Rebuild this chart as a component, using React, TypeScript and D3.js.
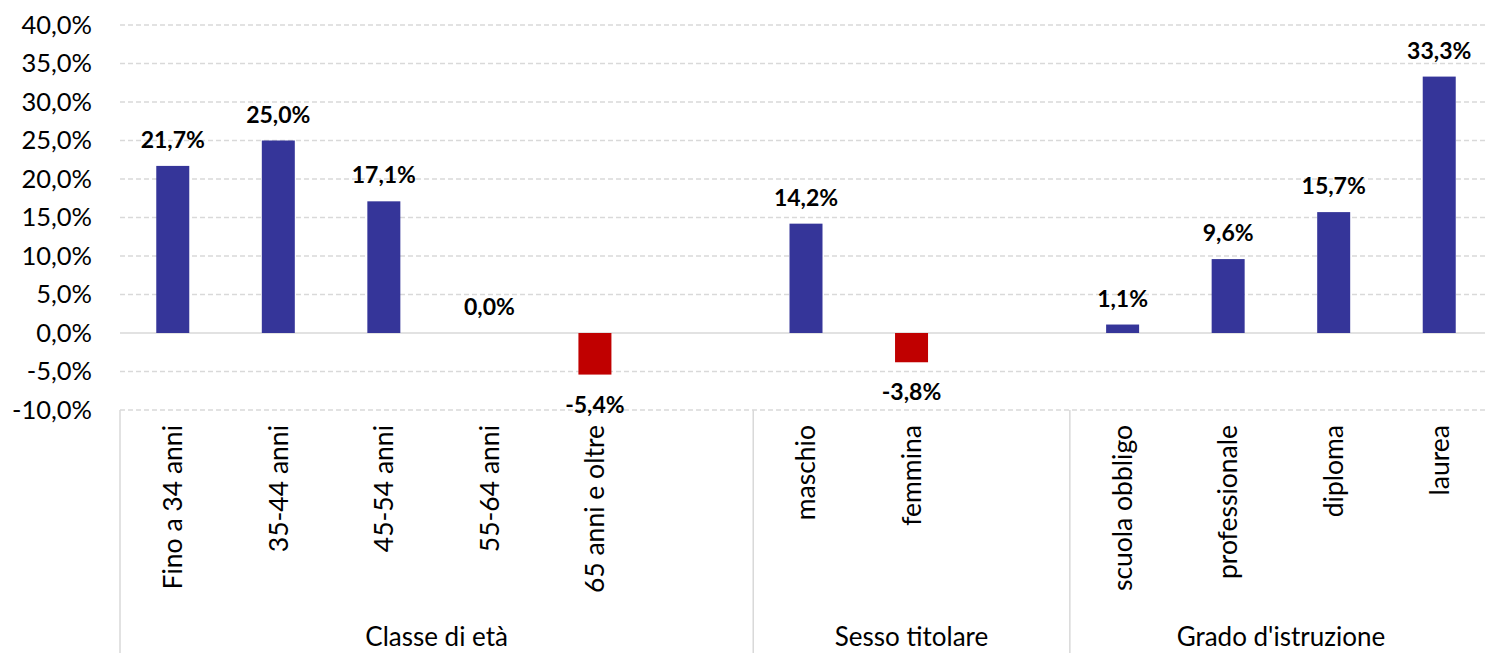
import React from "react";
import * as d3 from "d3";

const categories = [
  "Fino a 34 anni", "35-44 anni", "45-54 anni", "55-64 anni", "65 anni e oltre", "",
  "maschio", "femmina", "",
  "scuola obbligo", "professionale", "diploma", "laurea",
];
const values: (number | null)[] = [21.7, 25.0, 17.1, 0.0, -5.4, null, 14.2, -3.8, null, 1.1, 9.6, 15.7, 33.3];
const groups = [
  { name: "Classe di età", start: 0, end: 6 },
  { name: "Sesso titolare", start: 6, end: 9 },
  { name: "Grado d'istruzione", start: 9, end: 13 },
];
const yTicks = [-10, -5, 0, 5, 10, 15, 20, 25, 30, 35, 40];

const W = 1485, H = 653;
const FONT = "Lato, 'Open Sans', sans-serif";
const fmt = (v: number) => v.toFixed(1).replace(".", ",") + "%";

export default function App() {
  const left = 120, right = 1492, top = 25, bottom = 410;
  const step = (right - left) / categories.length;
  const y = d3.scaleLinear().domain([-10, 40]).range([bottom, top]);
  const bw = 33;
  return (
    <svg width={W} height={H} style={{ position: "absolute", left: 0, top: 0, fontFamily: FONT }}>
      {yTicks.map((t) => (
        <g key={t}>
          {t !== 0 && (
            <line x1={left} x2={right} y1={y(t)} y2={y(t)} stroke="#d9d9d9" strokeWidth={1.3} strokeDasharray="5,3" />
          )}
          <text x={92} y={y(t)} dy="0.35em" textAnchor="end" fontSize={25.5} fill="#000">{fmt(t)}</text>
        </g>
      ))}
      <line x1={left} x2={right} y1={y(0)} y2={y(0)} stroke="#d9d9d9" strokeWidth={1.5} />
      {values.map((v, i) => {
        if (v === null) return null;
        const cx = left + step * (i + 0.5);
        const y0 = y(0), y1 = y(v);
        const neg = v < 0;
        return (
          <g key={i}>
            {v !== 0 && (
              <rect x={cx - bw / 2} y={Math.min(y0, y1)} width={bw} height={Math.abs(y1 - y0)} fill={neg ? "#c00000" : "#353599"} />
            )}
            <text x={cx} y={neg ? y1 + 30 : y1 - 26} dy="0.35em" textAnchor="middle" fontSize={23} fontWeight="bold" fill="#000">{fmt(v)}</text>
          </g>
        );
      })}
      {categories.map((c, i) => {
        const cx = left + step * (i + 0.5);
        return c ? (
          <text key={i} transform={`translate(${cx},425) rotate(-90)`} dy="0.35em" textAnchor="end" fontSize={26.5} fill="#000">{c}</text>
        ) : null;
      })}
      {groups.map((g) => {
        const x0 = left + step * g.start, x1 = left + step * g.end;
        return (
          <g key={g.name}>
            <line x1={x0} x2={x0} y1={bottom} y2={H} stroke="#d9d9d9" strokeWidth={1.5} />
            <text x={(x0 + x1) / 2} y={637} dy="0.35em" textAnchor="middle" fontSize={26} fill="#000">{g.name}</text>
          </g>
        );
      })}
    </svg>
  );
}
